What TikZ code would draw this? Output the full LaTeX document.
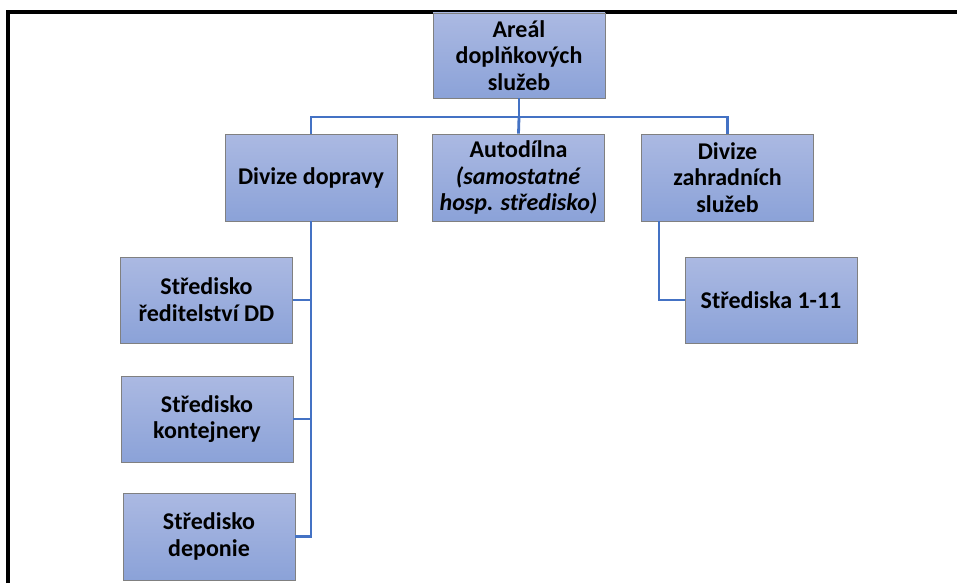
\documentclass[tikz,border=0pt]{standalone}
\usepackage{fontspec}
\setmainfont{Carlito}
\definecolor{boxtop}{RGB}{171,185,226}
\definecolor{boxbot}{RGB}{139,162,216}
\definecolor{boxline}{RGB}{128,128,128}
\definecolor{connblue}{RGB}{68,114,196}
\tikzset{
  orgbox/.style={draw=boxline, line width=0.9pt, top color=boxtop, bottom color=boxbot,
    minimum width=172pt, minimum height=86pt, inner sep=2pt, align=center,
    font=\fontsize{24}{26.7}\selectfont\bfseries},
  conn/.style={draw=connblue, line width=2.8pt},
  frameline/.style={draw=black, line width=4pt}
}
\begin{document}
\begin{tikzpicture}[x=1pt,y=-1pt]
\useasboundingbox (0,0) rectangle (957,583);
\draw[frameline] (8,583) -- (8,12) -- (957,12);
\node[orgbox, minimum height=85pt] (areal) at (519,55.5) {Areál\\doplňkových\\služeb};
\node[orgbox, minimum height=87pt] (dop) at (311,177.5) {Divize dopravy};
\node[orgbox, minimum height=87pt] (auto) at (518.5,177.5) {Autodílna\\\textit{(samostatné}\\\textit{hosp. středisko)}};
\node[orgbox, minimum height=87pt] (zahr) at (727.5,177.5) {Divize\\zahradních\\služeb};
\node[orgbox] (s1) at (206.5,300) {Středisko\\ředitelství DD};
\node[orgbox] (s2) at (207,419) {Středisko\\kontejnery};
\node[orgbox, minimum height=87pt] (s3) at (209,536.5) {Středisko\\deponie};
\node[orgbox] (s111) at (771,300) {Střediska 1-11};
\coordinate (bus) at (519,117);
\draw[conn] (areal.south) -- (bus);
\draw[conn] (bus) -| (dop.north);
\draw[conn] (bus) -- (auto.north);
\draw[conn] (bus) -| (zahr.north);
\draw[conn] (dop.south) |- (s3.east);
\draw[conn] (s1.east) -- (s1.east -| dop.south);
\draw[conn] (s2.east) -- (s2.east -| dop.south);
\coordinate (zb) at ([xshift=18pt]zahr.south west);
\draw[conn] (zb) |- (s111.west);
\end{tikzpicture}
\end{document}
